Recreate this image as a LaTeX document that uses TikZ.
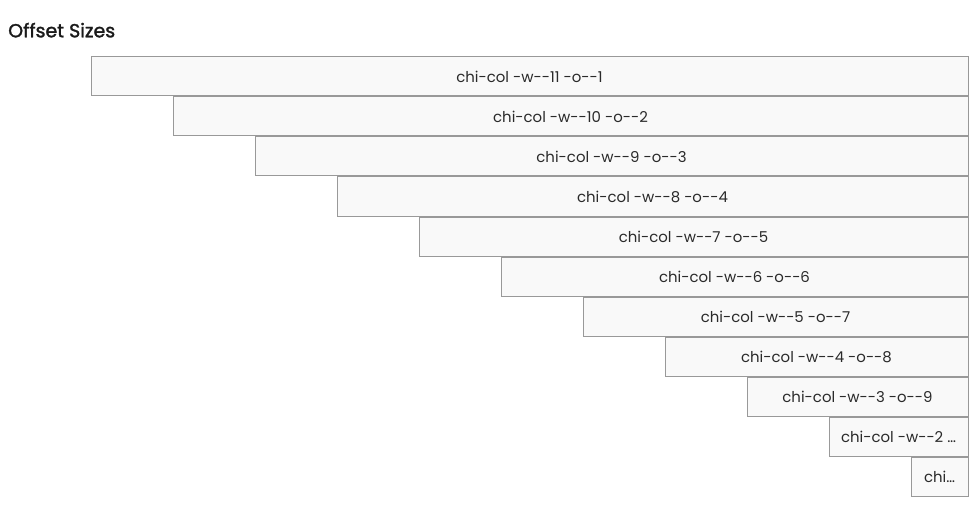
\documentclass[tikz,border=0pt]{standalone}
\usepackage{fontspec}
\setmainfont{Poppins}
\newfontfamily\titlefont[FakeBold=1.6]{Poppins}
\definecolor{boxline}{HTML}{999999}
\definecolor{boxfill}{HTML}{F9F9F9}
\definecolor{txt}{HTML}{2A2A2A}
\definecolor{ttl}{HTML}{1A1A1A}
\begin{document}
\begin{tikzpicture}[x=0.75pt,y=-0.75pt,
  box/.style={draw=boxline, fill=boxfill, line width=0.75pt, anchor=north west,
    inner sep=0pt, minimum height=29.25pt, text=txt,
    font=\fontsize{11.2pt}{12pt}\selectfont},
  titlestyle/.style={anchor=base west, inner sep=0pt, text=ttl,
    font=\fontsize{14.2pt}{15pt}\titlefont}]
\useasboundingbox[fill=white] (0,0) rectangle (976,528);
\node[titlestyle] (title) at (8,37.3) {Offset Sizes};
\foreach \k/\t in {0/{chi-col -w-{}-11 -o-{}-1},1/{chi-col -w-{}-10 -o-{}-2},2/{chi-col -w-{}-9 -o-{}-3},
  3/{chi-col -w-{}-8 -o-{}-4},4/{chi-col -w-{}-7 -o-{}-5},5/{chi-col -w-{}-6 -o-{}-6},
  6/{chi-col -w-{}-5 -o-{}-7},7/{chi-col -w-{}-4 -o-{}-8},8/{chi-col -w-{}-3 -o-{}-9},
  9/{chi-col -w-{}-2 …},10/{chi…}} {
  \pgfmathsetmacro\w{(877-82*\k)*0.75}
  \node[box, minimum width=\w pt] (b\k) at ({90.5+82*\k},{56.5+40*\k}) {\t};
}
\end{tikzpicture}
\end{document}
